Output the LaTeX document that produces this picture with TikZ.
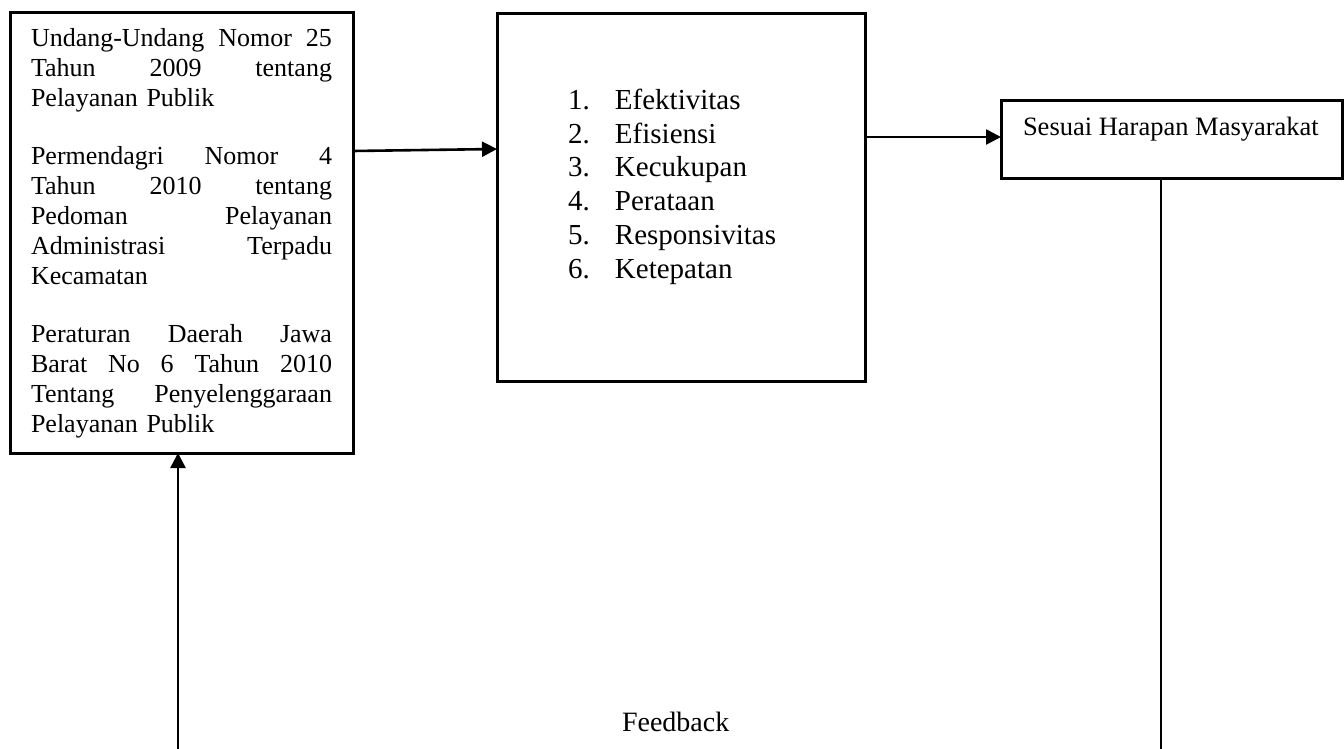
\documentclass[tikz,border=0pt]{standalone}
\usepackage{fontspec}
\setmainfont{Liberation Serif}
\usetikzlibrary{arrows.meta}
\begin{document}
\begin{tikzpicture}[x=1pt,y=-1pt,
  box/.style={draw,line width=3pt,rectangle,inner sep=0pt,outer sep=0pt,anchor=north west},
  txt/.style={inner sep=0pt,outer sep=0pt,text=black},
  arr/.style={draw,line width=2.6pt,-{Triangle[length=15pt,width=15pt]}},
  thinline/.style={draw,line width=1.5pt}
]
\useasboundingbox (0,0) rectangle (1344,749);
% boxes
\node[box,minimum width=343pt,minimum height=440pt] (lbox) at (10,13) {};
\node[box,minimum width=368pt,minimum height=367pt] (mbox) at (497,14) {};
\node[box,minimum width=341pt,minimum height=77pt] (rbox) at (1001,101) {};
% texts
\node[txt,anchor=north west,text width=301pt,align=left,font=\fontsize{26}{30}\selectfont] (ltext) at (31,25.7)
{\strut Undang-Undang\hfill Nomor\hfill 25\\
Tahun\hfill 2009\hfill tentang\\
Pelayanan Publik\\[28pt]
Permendagri\hfill Nomor\hfill 4\\
Tahun\hfill 2010\hfill tentang\\
Pedoman\hfill Pelayanan\\
Administrasi\hfill Terpadu\\
Kecamatan\\[28pt]
Peraturan\hfill Daerah\hfill Jawa\\
Barat\hfill No\hfill 6\hfill Tahun\hfill 2010\\
Tentang\hfill Penyelenggaraan\\
Pelayanan Publik};
\node[txt,anchor=north west,align=left,font=\fontsize{29}{33.8}\selectfont] (mtext) at (568,85.6)
{\strut\makebox[47pt][l]{1.}Efektivitas\\
\makebox[47pt][l]{2.}Efisiensi\\
\makebox[47pt][l]{3.}Kecukupan\\
\makebox[47pt][l]{4.}Perataan\\
\makebox[47pt][l]{5.}Responsivitas\\
\makebox[47pt][l]{6.}Ketepatan};
\node[txt,anchor=base west,font=\fontsize{26.5}{30}\selectfont] (rtext) at (1023,136) {Sesuai Harapan Masyarakat};
\node[txt,anchor=base west,font=\fontsize{28}{32}\selectfont] (fbtext) at (622,731) {Feedback};
% connectors
\coordinate (a1) at (0,151);
\coordinate (a2) at (0,149);
\coordinate (b1) at (0,137);
\coordinate (fbR) at (1161,749);
\coordinate (fbL) at (178,749);
\draw[arr] (lbox.east |- a1) -- (mbox.west |- a2);
\draw[arr] (mbox.east |- b1) -- (rbox.west |- b1);
\draw[thinline] (rbox.south -| fbR) -- (fbR);
\draw[arr] (fbL) -- (lbox.south -| fbL);
\end{tikzpicture}
\end{document}
